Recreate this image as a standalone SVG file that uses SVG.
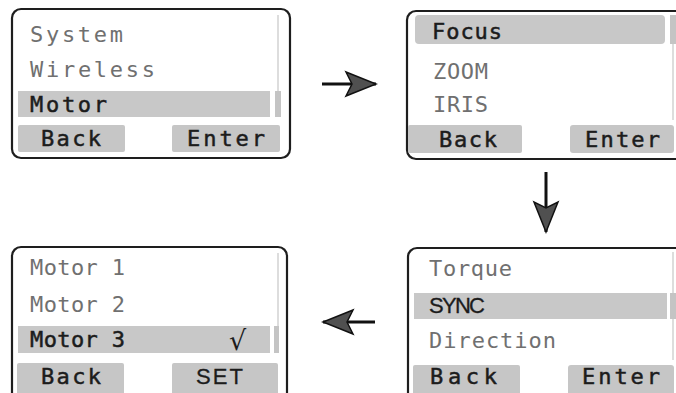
<svg xmlns="http://www.w3.org/2000/svg" width="676" height="393" viewBox="0 0 676 393">
<style>
.frame{fill:#fff;stroke:#1e1e1e;stroke-width:2.2}
.hl{fill:#c8c8c8}
.btn{fill:#c6c6c6}
.thin{stroke:#d2d2d2;stroke-width:1.5;fill:none}
.thumb{fill:#c4c4c4}
.t{font-family:"DejaVu Sans Mono","Liberation Mono",monospace;font-size:22px;fill:#707070}
.d{font-family:"DejaVu Sans Mono","Liberation Mono",monospace;font-size:22px;fill:#1c1c1c;stroke:#1c1c1c;stroke-width:0.5}
.p{font-family:"Liberation Sans","DejaVu Sans",sans-serif;font-size:22px;fill:#1c1c1c;stroke:#1c1c1c;stroke-width:0.3}
.arr{stroke:#111;stroke-width:3;fill:none}
</style>
<defs>
<marker id="head" markerUnits="userSpaceOnUse" markerWidth="34" markerHeight="28" refX="30" refY="12" orient="auto" viewBox="-2 -2 34 28">
<path d="M0,0 L30,12 L0,24 L6,12 Z" fill="#505050" stroke="#111" stroke-width="1.5" stroke-linejoin="miter"/>
</marker>
</defs>
<rect width="676" height="393" fill="#fff"/>

<g id="screen-main">
<rect class="frame" x="12" y="9" width="278" height="149" rx="9"/>
<line class="thin" x1="278" y1="15" x2="278" y2="91"/>
<rect class="hl" x="18" y="91" width="252" height="26"/>
<rect class="thumb" x="275" y="91" width="6" height="26"/>
<rect class="btn" x="18" y="125" width="107" height="27" rx="2"/>
<rect class="btn" x="172" y="125" width="108" height="27" rx="2"/>
<text class="t" x="30" y="42" font-size="23" textLength="93" lengthAdjust="spacing">System</text>
<text class="t" x="30" y="77" font-size="23" textLength="125" lengthAdjust="spacing">Wireless</text>
<text class="d" x="30" y="112" textLength="77" lengthAdjust="spacing">Motor</text>
<text class="d" x="41" y="146" textLength="60" lengthAdjust="spacing">Back</text>
<text class="d" x="187" y="146" textLength="78" lengthAdjust="spacing">Enter</text>
</g>

<g id="screen-focus">
<rect class="frame" x="407" y="11" width="300" height="148" rx="9"/>
<rect class="hl" x="415" y="15" width="250" height="29" rx="4"/>
<rect class="thumb" x="670" y="15" width="8" height="29"/>
<line class="thin" x1="673" y1="44" x2="673" y2="120"/>
<rect class="btn" x="408" y="125" width="114" height="28" rx="2"/>
<rect class="btn" x="570" y="125" width="104" height="28" rx="3"/>
<text class="d" x="432" y="39" textLength="70" lengthAdjust="spacing">Focus</text>
<text class="t" x="433" y="79" textLength="55" lengthAdjust="spacing">ZOOM</text>
<text class="t" x="433" y="112" textLength="55" lengthAdjust="spacing">IRIS</text>
<text class="d" x="439" y="147" textLength="58" lengthAdjust="spacing">Back</text>
<text class="d" x="585" y="147" textLength="75" lengthAdjust="spacing">Enter</text>
</g>

<g id="screen-motor-select">
<rect class="frame" x="12" y="247" width="275" height="156" rx="9"/>
<line class="thin" x1="278" y1="253" x2="278" y2="326"/>
<rect class="hl" x="18" y="326" width="252" height="27"/>
<rect class="thumb" x="274" y="326" width="5" height="27"/>
<rect class="btn" x="17" y="363" width="107" height="40" rx="2"/>
<rect class="btn" x="172" y="363" width="106" height="40" rx="2"/>
<text class="t" x="30" y="275" textLength="95" lengthAdjust="spacing">Motor 1</text>
<text class="t" x="30" y="312" textLength="95" lengthAdjust="spacing">Motor 2</text>
<text class="d" x="30" y="347" textLength="95" lengthAdjust="spacing">Motor 3</text>
<text x="229" y="350" font-family="DejaVu Sans,sans-serif" font-size="27" fill="#1c1c1c">√</text>
<text class="d" x="41" y="384" textLength="60" lengthAdjust="spacing">Back</text>
<text class="p" x="196" y="384" textLength="47" lengthAdjust="spacing">SET</text>
</g>

<g id="screen-sync">
<rect class="frame" x="408" y="248" width="300" height="156" rx="9"/>
<line class="thin" x1="673" y1="252" x2="673" y2="360"/>
<rect class="hl" x="414" y="293" width="253" height="26"/>
<rect class="thumb" x="670" y="293" width="8" height="26"/>
<rect class="btn" x="413" y="365" width="107" height="40" rx="2"/>
<rect class="btn" x="568" y="365" width="106" height="40" rx="3"/>
<text class="t" x="429" y="276" textLength="83" lengthAdjust="spacing">Torque</text>
<text class="p" x="429" y="313" textLength="56" lengthAdjust="spacing">SYNC</text>
<text class="t" x="429" y="348" textLength="127" lengthAdjust="spacing">Direction</text>
<text class="d" x="430" y="384" textLength="67" lengthAdjust="spacing">Back</text>
<text class="d" x="582" y="384" textLength="78" lengthAdjust="spacing">Enter</text>
</g>

<g id="connectors">
<line class="arr" x1="322" y1="84" x2="376" y2="84" marker-end="url(#head)"/>
<line class="arr" x1="546" y1="172" x2="546" y2="232" marker-end="url(#head)"/>
<line class="arr" x1="375" y1="322" x2="323" y2="322" marker-end="url(#head)"/>
</g>
</svg>
